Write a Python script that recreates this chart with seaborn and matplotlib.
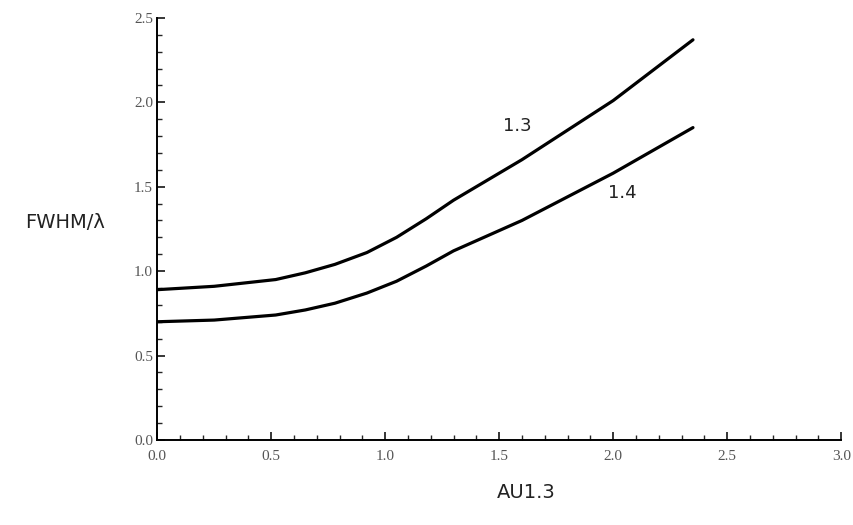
import numpy as np
import pandas as pd
import matplotlib
matplotlib.use("Agg")
import matplotlib.pyplot as plt
import seaborn as sns
from matplotlib.ticker import MultipleLocator, FormatStrFormatter

# ---------------------------------------------------------------------------
# Dati
# ---------------------------------------------------------------------------
x_13 = [0.0, 0.25, 0.52, 0.65, 0.78, 0.92, 1.05, 1.18, 1.3, 1.6, 2.0, 2.35]
y_13 = [0.89, 0.91, 0.95, 0.99, 1.04, 1.11, 1.20, 1.31, 1.42, 1.66, 2.01, 2.37]

x_14 = [0.0, 0.25, 0.52, 0.65, 0.78, 0.92, 1.05, 1.18, 1.3, 1.6, 2.0, 2.35]
y_14 = [0.70, 0.71, 0.74, 0.77, 0.81, 0.87, 0.94, 1.03, 1.12, 1.30, 1.58, 1.85]

curve_labels = ["1.3", "1.4"]
label_pos = [(1.58, 1.86), (2.04, 1.46)]

df = pd.concat([
    pd.DataFrame({"x": x_13, "y": y_13, "curve": "1.3"}),
    pd.DataFrame({"x": x_14, "y": y_14, "curve": "1.4"}),
])

sns.set_style("ticks")

fig = plt.figure(figsize=(8.54, 5.25), dpi=100)
ax = fig.add_axes([0.184, 0.162, 0.801, 0.804])

sns.lineplot(data=df, x="x", y="y", hue="curve", sort=False,
             palette=["black", "black"], linewidth=2.3, legend=False, ax=ax)

for lab, (lx, ly) in zip(curve_labels, label_pos):
    ax.text(lx, ly, lab, fontsize=13, family="DejaVu Sans",
            ha="center", va="center", color="#222222")

ax.set_xlim(0, 3.0)
ax.set_ylim(0, 2.5)
ax.xaxis.set_major_locator(MultipleLocator(0.5))
ax.xaxis.set_minor_locator(MultipleLocator(0.1))
ax.yaxis.set_major_locator(MultipleLocator(0.5))
ax.yaxis.set_minor_locator(MultipleLocator(0.1))
ax.xaxis.set_major_formatter(FormatStrFormatter("%.1f"))
ax.yaxis.set_major_formatter(FormatStrFormatter("%.1f"))

ax.tick_params(which="major", direction="in", length=6, width=1.1,
               labelsize=11, colors="black", labelcolor="#555555", pad=3)
ax.tick_params(which="minor", direction="in", length=3.5, width=1.0)
ax.tick_params(axis="x", which="major", pad=7)
for t in ax.get_xticklabels() + ax.get_yticklabels():
    t.set_family("Liberation Serif")

sns.despine(ax=ax)
for s in ["left", "bottom"]:
    ax.spines[s].set_linewidth(1.4)
    ax.spines[s].set_color("black")

ax.set_xlabel("")
ax.set_ylabel("")
fig.text(65 / 854, 1 - 222 / 525, "FWHM/λ", fontsize=14, ha="center",
         va="center", family="DejaVu Sans", color="#222222")
fig.text(526 / 854, 1 - 493 / 525, "AU1.3", fontsize=14, ha="center",
         va="center", family="DejaVu Sans", color="#222222")

fig.savefig("out.png", dpi=100)
